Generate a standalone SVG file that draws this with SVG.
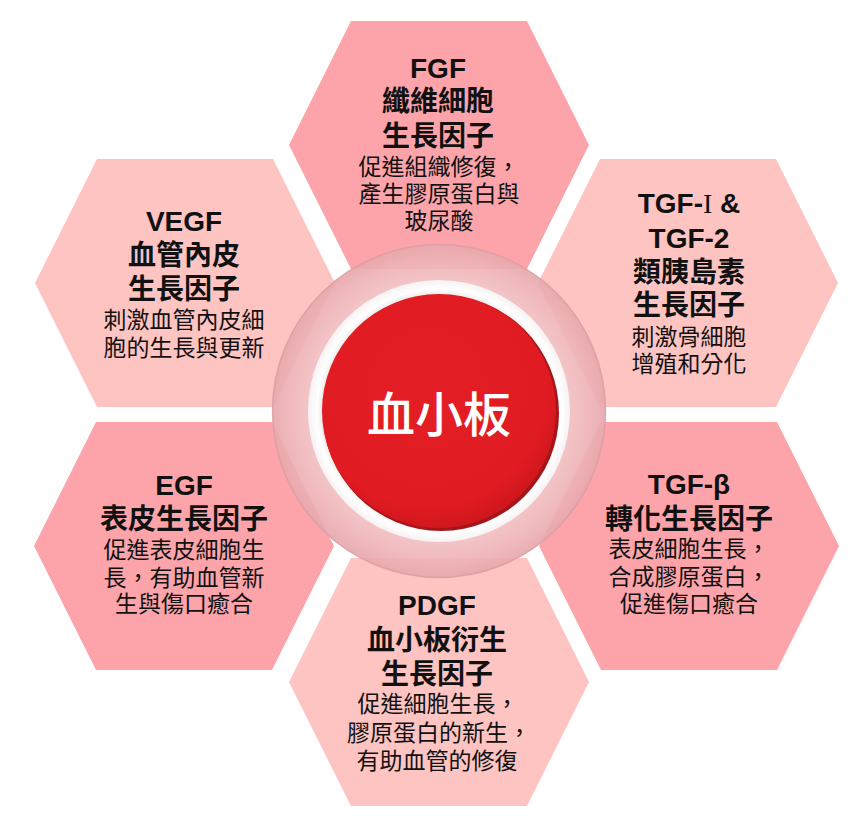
<svg xmlns="http://www.w3.org/2000/svg" xmlns:xlink="http://www.w3.org/1999/xlink" width="864" height="829" viewBox="0 0 864 829" xml:lang="zh-Hant-TW" lang="zh-Hant-TW">
<defs>
<style>
.hd{fill:#FCA4AA}
.hl{fill:#FDC4C1}
text{font-family:"Liberation Sans","Noto Sans CJK TC",sans-serif;fill:#111;text-anchor:middle}
.t{font-size:28px;font-weight:bold}
.d{font-size:23px;font-weight:normal}
.c{font-size:48px;fill:#fff;font-weight:500}
</style>
<polygon id="hex" points="-88,-124 88,-124 150,0 88,124 -88,124 -150,0"/>
<radialGradient id="ringG" cx="0.5" cy="0.5" r="0.5">
<stop offset="0.78" stop-color="#F2BFC2"/>
<stop offset="0.92" stop-color="#EDB1B5"/>
<stop offset="1" stop-color="#E6A7AC"/>
</radialGradient>
<radialGradient id="redG" cx="0.45" cy="0.4" r="0.6">
<stop offset="0" stop-color="#E41E25"/>
<stop offset="0.85" stop-color="#E11B22"/>
<stop offset="1" stop-color="#D0171D"/>
</radialGradient>
<radialGradient id="whiteG" cx="0.5" cy="0.5" r="0.5">
<stop offset="0.88" stop-color="#E9E4E5"/>
<stop offset="0.93" stop-color="#FFFFFF"/>
<stop offset="1" stop-color="#F7F2F3"/>
</radialGradient>
</defs>
<rect width="864" height="829" fill="#fff"/>
<g id="nodes">
<g id="fgf">
<use xlink:href="#hex" class="hd" x="439" y="145"/>
<text class="t"><tspan x="438" y="78">FGF</tspan><tspan x="438" y="111">纖維細胞</tspan><tspan x="438" y="146">生長因子</tspan><tspan class="d" x="439" y="175">促進組織修復，</tspan><tspan class="d" x="439" y="202">產生膠原蛋白與</tspan><tspan class="d" x="439" y="229">玻尿酸</tspan></text>
</g>
<g id="vegf">
<use xlink:href="#hex" class="hl" x="185" y="283"/>
<text class="t"><tspan x="184" y="231">VEGF</tspan><tspan x="184" y="265">血管內皮</tspan><tspan x="184" y="299">生長因子</tspan><tspan class="d" x="184" y="328">刺激血管內皮細</tspan><tspan class="d" x="184" y="356">胞的生長與更新</tspan></text>
</g>
<g id="tgf12">
<use xlink:href="#hex" class="hl" x="688" y="283"/>
<text class="t"><tspan x="689" y="213">TGF-<tspan font-family="Liberation Serif,serif" font-weight="normal">I</tspan> &amp;</tspan><tspan x="689" y="248">TGF-2</tspan><tspan x="689" y="282">類胰島素</tspan><tspan x="689" y="315">生長因子</tspan><tspan class="d" x="689" y="345">刺激骨細胞</tspan><tspan class="d" x="689" y="372">增殖和分化</tspan></text>
</g>
<g id="egf">
<use xlink:href="#hex" class="hd" x="184" y="546"/>
<text class="t"><tspan x="184" y="495">EGF</tspan><tspan x="184" y="529">表皮生長因子</tspan><tspan class="d" x="184" y="558">促進表皮細胞生</tspan><tspan class="d" x="184" y="586">長，有助血管新</tspan><tspan class="d" x="184" y="612">生與傷口癒合</tspan></text>
</g>
<g id="tgfb">
<use xlink:href="#hex" class="hd" x="689" y="546"/>
<text class="t"><tspan x="689" y="494">TGF-β</tspan><tspan x="689" y="529">轉化生長因子</tspan><tspan class="d" x="689" y="557">表皮細胞生長，</tspan><tspan class="d" x="689" y="585">合成膠原蛋白，</tspan><tspan class="d" x="689" y="612">促進傷口癒合</tspan></text>
</g>
<g id="pdgf">
<use xlink:href="#hex" class="hl" x="439" y="682"/>
<text class="t"><tspan x="437" y="615">PDGF</tspan><tspan x="437" y="650">血小板衍生</tspan><tspan x="437" y="684">生長因子</tspan><tspan class="d" x="438" y="712">促進細胞生長，</tspan><tspan class="d" x="439" y="741">膠原蛋白的新生，</tspan><tspan class="d" x="437" y="769">有助血管的修復</tspan></text>
</g>
<g id="platelet">
<circle cx="439" cy="411" r="167" fill="url(#ringG)" fill-opacity="0.92"/>
<circle cx="439" cy="411" r="166.5" fill="none" stroke="#D99CA2" stroke-opacity="0.7" stroke-width="1.5"/>
<circle cx="439" cy="411" r="131" fill="url(#whiteG)"/>
<circle cx="441" cy="413" r="118" fill="#A5161B"/>
<circle cx="439" cy="411" r="117" fill="url(#redG)"/>
<text class="c" x="439" y="432">血小板</text>
</g>
</g>
<g id="connectors"/>
</svg>
